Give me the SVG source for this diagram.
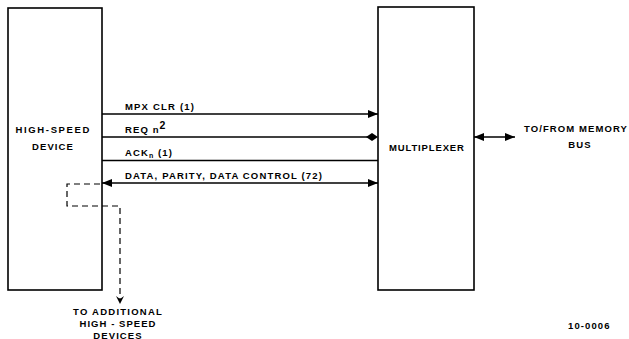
<svg xmlns="http://www.w3.org/2000/svg" width="629" height="339" viewBox="0 0 629 339">
<defs>
<style>
.box{fill:#fff;stroke:#000;stroke-width:1.6}
.ln{stroke:#000;stroke-width:1.3;fill:none}
.dash{stroke:#000;stroke-width:1.2;fill:none;stroke-dasharray:6,4}
text{font-family:"Liberation Sans",Arial,sans-serif;font-size:9.5px;font-weight:bold;fill:#000;letter-spacing:1.1px}
</style>
<marker id="ah" viewBox="0 0 10 8" refX="10" refY="4" markerWidth="10" markerHeight="8" markerUnits="userSpaceOnUse" orient="auto-start-reverse">
<path d="M0,0 L10,4 L0,8 z" fill="#000"/>
</marker>
</defs>
<rect width="629" height="339" fill="#fff"/>
<g id="device">
<rect class="box" x="8" y="8" width="94" height="282"/>
<text x="53" y="133" text-anchor="middle" textLength="75">HIGH-SPEED</text>
<text x="53" y="150" text-anchor="middle">DEVICE</text>
</g>
<g id="multiplexer">
<rect class="box" x="378" y="7" width="96" height="283"/>
<text x="427" y="151" text-anchor="middle" textLength="76">MULTIPLEXER</text>
</g>
<g id="connectors">
<line class="ln" x1="102" y1="114" x2="378" y2="114" marker-end="url(#ah)"/>
<line class="ln" x1="102" y1="137" x2="370" y2="137"/>
<path d="M366,137 L372,133 L378,137 L372,141 z" fill="#000"/>
<line class="ln" x1="102" y1="160.5" x2="378" y2="160.5"/>
<line class="ln" x1="102" y1="183" x2="378" y2="183" marker-start="url(#ah)" marker-end="url(#ah)"/>
<line class="ln" x1="474" y1="137" x2="515" y2="137" marker-start="url(#ah)" marker-end="url(#ah)"/>
<path class="dash" d="M100,184 H67 V206 H120 V302"/>
<path d="M116,296 L120,304 L124,296 L120,299 z" fill="#000"/>
</g>
<g id="labels">
<text x="125" y="110" textLength="70">MPX CLR (1)</text>
<text x="125" y="133">REQ n<tspan font-size="10.5" dy="-4">2</tspan></text>
<text x="125" y="156">ACK<tspan font-size="7" dy="2">n</tspan><tspan dy="-2"> (1)</tspan></text>
<text x="125" y="179" textLength="198">DATA, PARITY, DATA CONTROL  (72)</text>
<text x="524" y="132" textLength="104">TO/FROM MEMORY</text>
<text x="580" y="148" text-anchor="middle">BUS</text>
<text x="118" y="315" text-anchor="middle" textLength="90">TO ADDITIONAL</text>
<text x="118" y="327" text-anchor="middle" textLength="77">HIGH - SPEED</text>
<text x="118" y="338.5" text-anchor="middle">DEVICES</text>
<text x="568" y="329" font-size="8">10-0006</text>
</g>
</svg>
